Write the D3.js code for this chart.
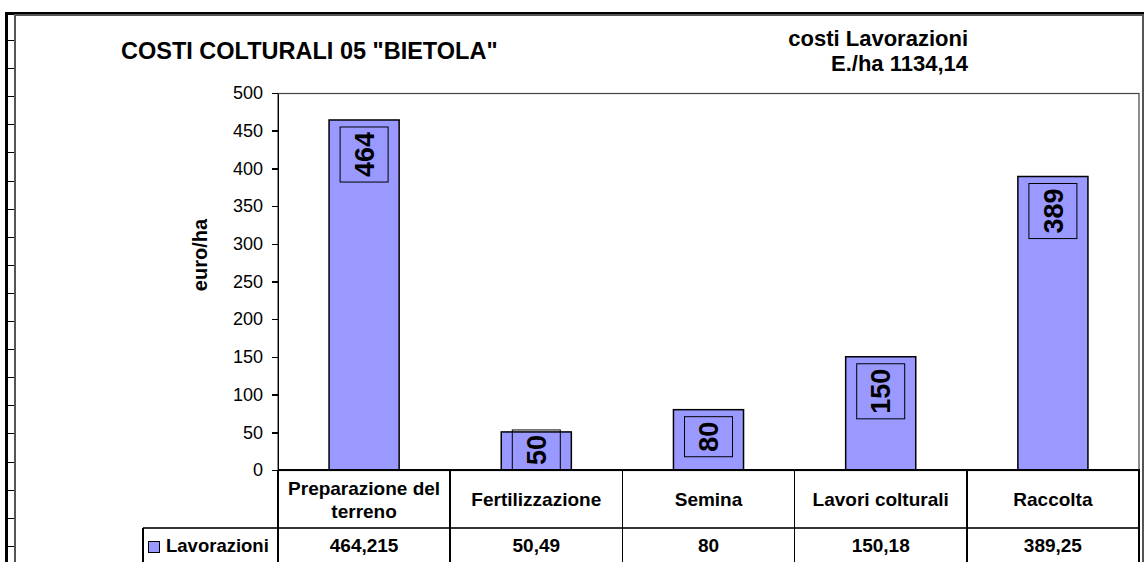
<!DOCTYPE html>
<html lang="it">
<head>
<meta charset="UTF-8">
<title>Costi colturali 05 Bietola</title>
<script src="https://d3js.org/d3.v7.min.js"></script>
<style>
    body { margin: 0; background: #fff; }
    svg { display: block; font-family: "Liberation Sans", Arial, sans-serif; }
    .axis text { font-size: 18px; fill: #000; }
    .axis line, .axis path { stroke: #000; stroke-width: 1.5px; shape-rendering: crispEdges; }
    .grid line { stroke: #000; shape-rendering: crispEdges; }
    .tbl line { stroke: #000; stroke-width: 1.5px; shape-rendering: crispEdges; }
    .bold { font-weight: bold; }
</style>
</head>
<body>
<script>

var categories = ["Preparazione del terreno", "Fertilizzazione", "Semina", "Lavori colturali", "Raccolta"];
var values = [464.215, 50.49, 80, 150.18, 389.25];
var yTicks = [0, 50, 100, 150, 200, 250, 300, 350, 400, 450, 500];
var seriesName = "Lavorazioni";
var title = 'COSTI COLTURALI 05 "BIETOLA"';
var subtitle = ["costi Lavorazioni", "E./ha 1134,14"];
var yLabel = "euro/ha";

var W = 1144, H = 562;
var plot = {left: 278, right: 1139, top: 93, bottom: 470};
var tableRow = 528, legendLeft = 143;

var svg = d3.select("body").append("svg")
    .attr("width", W)
    .attr("height", H);

// spreadsheet frame behind the chart
var frame = svg.append("g").attr("class", "grid");
frame.append("line").attr("x1", 5).attr("x2", W).attr("y1", 13).attr("y2", 13)
    .style("stroke-width", 3);
frame.append("line").attr("x1", 6).attr("x2", 6).attr("y1", 12).attr("y2", H)
    .style("stroke-width", 3);
d3.range(40, H, 28.1).forEach(function(y) {
    frame.append("line").attr("x1", 6).attr("x2", 15)
        .attr("y1", Math.round(y) + 0.5).attr("y2", Math.round(y) + 0.5);
});
[139, 292, 445, 591, 706, 823, 967].forEach(function(x) {
    frame.append("line").attr("x1", x + 0.5).attr("x2", x + 0.5).attr("y1", 13).attr("y2", 15);
});

// chart area border
svg.append("rect")
    .attr("x", 15).attr("y", 15)
    .attr("width", 1128).attr("height", H)
    .style("fill", "#fff")
    .style("stroke", "#555")
    .style("stroke-width", 2);

var x = d3.scaleBand()
    .domain(categories)
    .range([plot.left, plot.right]);

var xBar = d3.scaleBand()
    .domain(categories)
    .range([plot.left, plot.right])
    .paddingInner(0.593)
    .paddingOuter(0.2965);

var y = d3.scaleLinear()
    .domain([0, 500])
    .range([plot.bottom, plot.top]);

// plot area border
svg.append("rect")
    .attr("x", plot.left).attr("y", plot.top + 0.5)
    .attr("width", plot.right - plot.left).attr("height", plot.bottom - plot.top)
    .style("fill", "none")
    .style("stroke", "#444")
    .style("stroke-width", 1.2);

// titles
svg.append("text")
    .attr("class", "bold")
    .attr("x", 121).attr("y", 59)
    .style("font-size", "23.5px")
    .text(title);

svg.selectAll(".subtitle")
    .data(subtitle).enter()
    .append("text")
    .attr("class", "subtitle bold")
    .attr("x", 968)
    .attr("y", function(d, i) { return 46 + i * 25; })
    .attr("text-anchor", "end")
    .style("font-size", "22px")
    .text(function(d) { return d; });

svg.append("text")
    .attr("class", "bold")
    .attr("transform", "translate(207,255) rotate(-90)")
    .attr("text-anchor", "middle")
    .style("font-size", "20px")
    .text(yLabel);

// bars
svg.selectAll(".bar")
    .data(values).enter()
    .append("rect")
    .attr("class", "bar")
    .attr("x", function(d, i) { return xBar(categories[i]); })
    .attr("width", xBar.bandwidth())
    .attr("y", function(d) { return y(d); })
    .attr("height", function(d) { return plot.bottom - y(d); })
    .style("fill", "#9999ff")
    .style("stroke", "#000")
    .style("stroke-width", 1.5);

// value labels, rotated, in a box
var labels = svg.selectAll(".vlabel")
    .data(values).enter()
    .append("g")
    .attr("class", "vlabel");

labels.each(function(d, i) {
    var g = d3.select(this);
    var cx = xBar(categories[i]) + xBar.bandwidth() / 2;
    var txt = g.append("text")
        .attr("class", "bold")
        .style("font-size", "27px")
        .attr("text-anchor", "middle")
        .attr("dy", "0.36em")
        .text(Math.round(d));
    var len = txt.node().getComputedTextLength();
    var h = len + 10, w = 48;
    var top = Math.min(y(d) + 7, plot.bottom - h);
    g.insert("rect", "text")
        .attr("x", cx - w / 2).attr("y", top)
        .attr("width", w).attr("height", h)
        .style("fill", "none")
        .style("stroke", "#000")
        .style("stroke-width", 1);
    txt.attr("transform", "translate(" + cx + "," + (top + h / 2) + ") rotate(-90)");
});

// y axis
svg.append("g")
    .attr("class", "axis")
    .attr("transform", "translate(" + plot.left + ",0)")
    .call(d3.axisLeft(y).tickValues(yTicks).tickSize(6).tickPadding(9).tickSizeOuter(0));

// data table
var tbl = svg.append("g").attr("class", "tbl");
tbl.append("line")
    .attr("x1", plot.left).attr("x2", plot.right + 1)
    .attr("y1", plot.bottom).attr("y2", plot.bottom);
tbl.append("line")
    .attr("x1", legendLeft).attr("x2", plot.right + 1)
    .attr("y1", tableRow).attr("y2", tableRow)
    .style("stroke", "#333");
tbl.append("line")
    .attr("x1", legendLeft).attr("x2", legendLeft)
    .attr("y1", tableRow).attr("y2", H);
tbl.selectAll(".vsep")
    .data(categories.concat([null])).enter()
    .append("line")
    .attr("class", "vsep")
    .attr("x1", function(d) { return d === null ? plot.right : x(d); })
    .attr("x2", function(d) { return d === null ? plot.right : x(d); })
    .attr("y1", plot.bottom).attr("y2", H);

function wrapLines(str, maxW, size) {
    var probe = svg.append("text").attr("class", "bold").style("font-size", size + "px");
    var words = str.split(" "), lines = [], line = [];
    words.forEach(function(wd) {
        line.push(wd);
        probe.text(line.join(" "));
        if (probe.node().getComputedTextLength() > maxW && line.length > 1) {
            line.pop();
            lines.push(line.join(" "));
            line = [wd];
        }
    });
    lines.push(line.join(" "));
    probe.remove();
    return lines;
}

categories.forEach(function(c) {
    var lines = wrapLines(c, x.bandwidth() - 10, 19);
    var cx = x(c) + x.bandwidth() / 2;
    var first = 506 - (lines.length - 1) * 23 / 2;
    var t = svg.append("text")
        .attr("class", "bold")
        .attr("text-anchor", "middle")
        .style("font-size", "19px");
    lines.forEach(function(l, j) {
        t.append("tspan").attr("x", cx).attr("y", first + j * 23).text(l);
    });
});

svg.selectAll(".tval")
    .data(values).enter()
    .append("text")
    .attr("class", "tval bold")
    .attr("x", function(d, i) { return x(categories[i]) + x.bandwidth() / 2; })
    .attr("y", 552)
    .attr("text-anchor", "middle")
    .style("font-size", "19px")
    .text(function(d) { return String(d).replace(".", ","); });

// legend in the table
svg.append("rect")
    .attr("x", 148.5).attr("y", 541.5)
    .attr("width", 11).attr("height", 11)
    .style("fill", "#9999ff")
    .style("stroke", "#000")
    .style("stroke-width", 1);
svg.append("text")
    .attr("class", "bold")
    .attr("x", 166).attr("y", 552)
    .style("font-size", "18.5px")
    .text(seriesName);

</script>
</body>
</html>
